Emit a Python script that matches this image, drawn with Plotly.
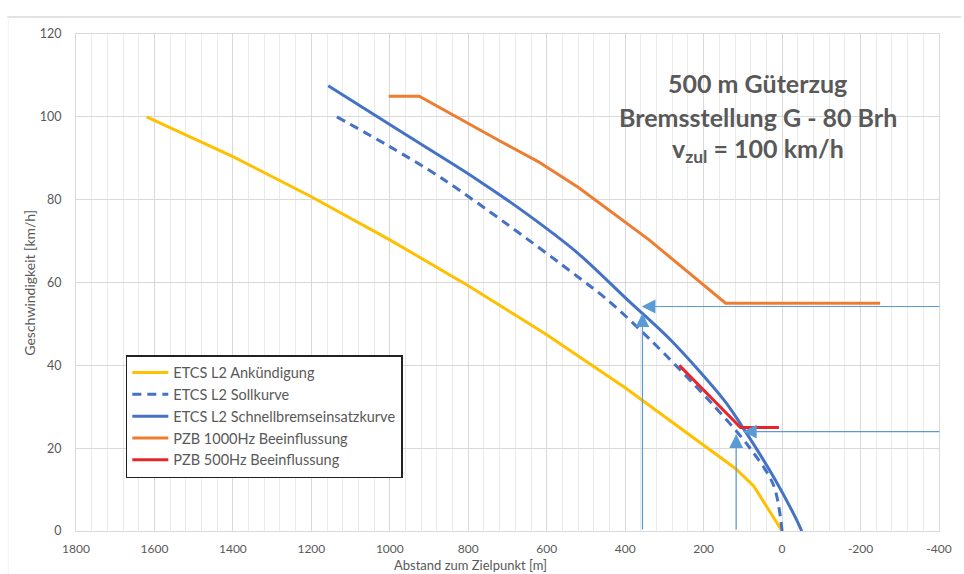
import plotly.graph_objects as go

# ---------------- data ----------------
ank_x = [1620, 1400, 1200, 1000, 800, 600, 400, 200, 119, 72, 0]
ank_v = [100, 90.4, 80.7, 70.3, 59.2, 47.4, 34.6, 20.8, 15.1, 10.8, 0]

soll_x = [1135, 1000, 868, 700, 521, 445, 335, 183, 85, 22, 0]
soll_v = [100, 92.8, 85.2, 74.0, 61.4, 55.8, 46.1, 31.2, 20.4, 11.1, 0]

sb_x = [1157, 978, 783, 650, 521, 394, 284, 148, 107, 22, -37, -50]
sb_v = [107.5, 96.8, 85.2, 76.5, 67.1, 55.8, 46.1, 31.6, 26.0, 13.1, 2.7, 0]

pzb1000_x = [1003, 925, 724, 622, 520, 419, 339, 144, -250]
pzb1000_v = [105, 105, 94.4, 89.2, 83.0, 76.0, 70.3, 55.0, 55.0]

pzb500_x = [262, 106, 8]
pzb500_v = [40.0, 25.0, 25.0]

# helper arrows: tail (x, v) -> head (x, v)
arrow_tail_x = [-405, 356, -405, 117]
arrow_tail_v = [54.2, 0, 24.0, 0]
arrow_head_x = [358, 356, 100, 117]
arrow_head_v = [54.2, 52.6, 24.0, 23.4]

x_ticks = [1800, 1600, 1400, 1200, 1000, 800, 600, 400, 200, 0, -200, -400]
y_ticks = [0, 20, 40, 60, 80, 100, 120]

series_names = [
    "ETCS L2 Ankündigung",
    "ETCS L2 Sollkurve",
    "ETCS L2 Schnellbremseinsatzkurve",
    "PZB 1000Hz Beeinflussung",
    "PZB 500Hz Beeinflussung",
]

title_lines = [
    "500 m Güterzug",
    "Bremsstellung G - 80 Brh",
    "v<sub>zul</sub> = 100 km/h",
]

# ---------------- styling ----------------
FONT = "Lato, Carlito, 'Open Sans', sans-serif"
GRAY = "#595959"
YELLOW = "#FFC000"
BLUE = "#4472C4"
ORANGE = "#ED7D31"
RED = "#E8262A"
ARROW = "#5B9BD5"

# plot-area geometry in pixels (used to place paper-referenced items)
W, H = 964, 574
L, R, T, B = 76, 22, 34, 43
PW, PH = W - L - R, H - T - B


def px_x(p):
    return (p - L) / PW


def px_y(p):
    return (H - B - p) / PH


fig = go.Figure()

series = [
    (ank_x, ank_v, YELLOW, "solid", "linear", 0),
    (soll_x, soll_v, BLUE, "9px,6px", "spline", 0.9),
    (sb_x, sb_v, BLUE, "solid", "spline", 0.9),
    (pzb1000_x, pzb1000_v, ORANGE, "solid", "linear", 0),
    (pzb500_x, pzb500_v, RED, "solid", "linear", 0),
]
for i, (xs, vs, col, dash, shape, sm) in enumerate(series):
    line = dict(color=col, width=3, dash=dash, shape=shape)
    if shape == "spline":
        line["smoothing"] = sm
    fig.add_trace(go.Scatter(
        x=xs, y=vs, mode="lines", name=series_names[i],
        line=line,
        hoverinfo="x+y+name",
    ))

annotations = []
for tx, tv, hx, hv in zip(arrow_tail_x, arrow_tail_v, arrow_head_x, arrow_head_v):
    annotations.append(dict(
        x=hx, y=hv, xref="x", yref="y",
        ax=tx, ay=tv, axref="x", ayref="y",
        showarrow=True, arrowhead=2, arrowsize=2.3, arrowwidth=1.2,
        arrowcolor=ARROW, text="",
    ))

title_y_px = [83, 117, 150]
for line, ypx in zip(title_lines, title_y_px):
    annotations.append(dict(
        x=px_x(760), y=px_y(ypx), xref="paper", yref="paper",
        text=f"<b>{line}</b>", showarrow=False,
        xanchor="center", yanchor="middle",
        font=dict(family=FONT, size=25, color=GRAY),
    ))

annotations.append(dict(
    x=px_x(472), y=px_y(565), xref="paper", yref="paper",
    text="Abstand zum Zielpunkt [m]", showarrow=False,
    xanchor="center", yanchor="middle",
    font=dict(family=FONT, size=13, color=GRAY),
))
annotations.append(dict(
    x=px_x(29), y=0.5, xref="paper", yref="paper",
    text="Geschwindigkeit [km/h]", showarrow=False, textangle=-90,
    xanchor="center", yanchor="middle",
    font=dict(family=FONT, size=14, color=GRAY),
))

shapes = [
    dict(type="line", xref="paper", yref="paper",
         x0=px_x(7), x1=px_x(W), y0=px_y(17), y1=px_y(17),
         line=dict(color="#D9D9D9", width=1.5), layer="below"),
    dict(type="line", xref="paper", yref="paper",
         x0=px_x(8), x1=px_x(8), y0=px_y(17), y1=px_y(H),
         line=dict(color="#F2F2F2", width=1), layer="below"),
]

fig.update_layout(
    width=W, height=H,
    margin=dict(l=L, r=R, t=T, b=B, pad=0),
    paper_bgcolor="white", plot_bgcolor="white",
    font=dict(family=FONT, color=GRAY, size=12),
    showlegend=True,
    legend=dict(
        x=px_x(126), y=px_y(355), xanchor="left", yanchor="top",
        bgcolor="white", bordercolor="#222222", borderwidth=1.5,
        font=dict(family=FONT, size=14.5, color=GRAY),
        traceorder="normal",
        itemwidth=36,
    ),
    annotations=annotations,
    shapes=shapes,
    xaxis=dict(
        range=[1800, -400], tickvals=x_ticks,
        ticktext=[str(v) for v in x_ticks],
        showgrid=True, gridcolor="#D9D9D9", gridwidth=1,
        minor=dict(dtick=40, tick0=0, showgrid=True, gridcolor="#EBEBEB", gridwidth=1),
        showline=True, linecolor="#D9D9D9", linewidth=1, mirror=True,
        zeroline=False, ticks="", ticklabelstandoff=7,
        tickfont=dict(family=FONT, size=12, color=GRAY),
    ),
    yaxis=dict(
        range=[0, 120], tickvals=y_ticks,
        showgrid=True, gridcolor="#D9D9D9", gridwidth=1,
        showline=True, linecolor="#D9D9D9", linewidth=1, mirror=True,
        zeroline=False, ticks="", ticklabelstandoff=11,
        tickfont=dict(family=FONT, size=12.5, color=GRAY),
    ),
)

fig.write_html(
    "out.html",
    config={"displayModeBar": False},
    post_script="document.body.style.margin='0';document.body.style.overflow='hidden';",
)
